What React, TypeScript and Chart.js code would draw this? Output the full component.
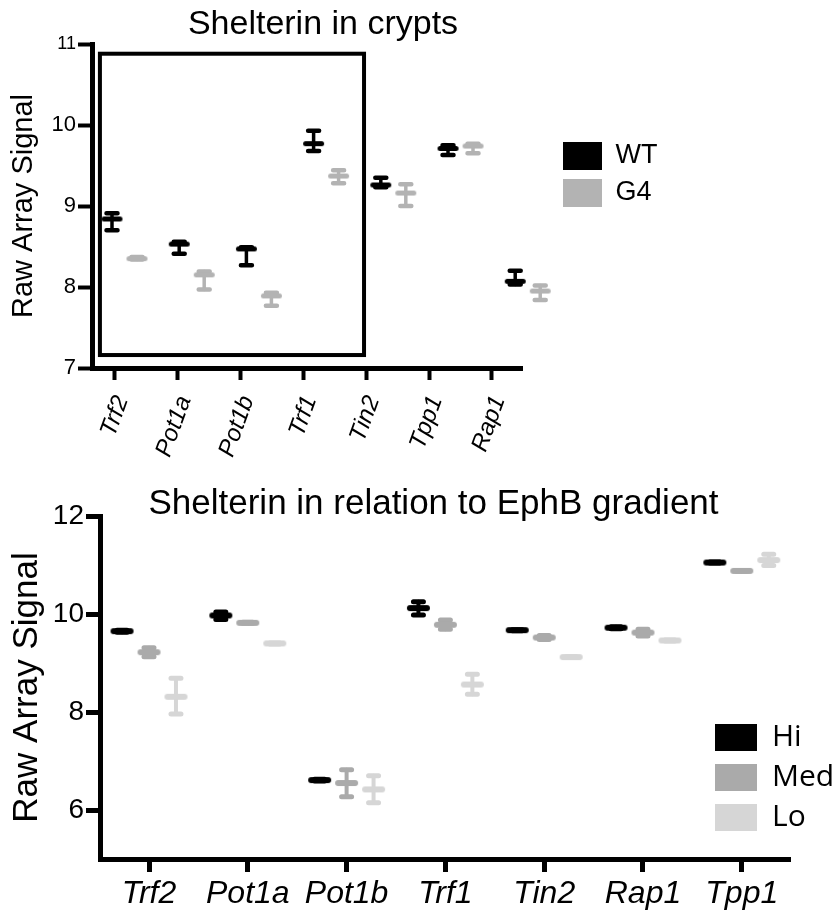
import React, { useEffect, useRef } from 'react';
import { Chart, registerables } from 'chart.js';

Chart.register(...registerables);

const FONT = "'Liberation Sans', Arial, Helvetica, sans-serif";
const LEGEND2_FONT = "'Open Sans', 'Liberation Sans', sans-serif";

// ---------- Top panel: Shelterin in crypts ----------
const topCategories = ['Trf2', 'Pot1a', 'Pot1b', 'Trf1', 'Tin2', 'Tpp1', 'Rap1'];
const wtMean = [8.84, 8.53, 8.47, 9.77, 9.26, 9.71, 8.07];
const wtUpper = [8.91, 8.56, 8.49, 9.93, 9.35, 9.75, 8.2];
const wtLower = [8.7, 8.41, 8.27, 9.68, 9.23, 9.63, 8.03];
const g4Mean = [8.35, 8.15, 7.89, 9.37, 9.16, 9.74, 7.95];
const g4Upper = [8.37, 8.19, 7.93, 9.44, 9.27, 9.77, 8.02];
const g4Lower = [8.34, 7.97, 7.77, 9.28, 9.0, 9.65, 7.84];
const topYMin = 7;
const topYMax = 11;
// highlight frame in axis units (x = category index, y = signal)
const topFrame = { xMin: -0.24, xMax: 3.965, yMin: 7.16, yMax: 10.88 };

// ---------- Bottom panel: EphB gradient ----------
const bottomCategories = ['Trf2', 'Pot1a', 'Pot1b', 'Trf1', 'Tin2', 'Rap1', 'Tpp1'];
const hiMean = [9.65, 9.97, 6.61, 10.12, 9.67, 9.72, 11.05];
const hiUpper = [9.67, 10.04, 6.63, 10.25, 9.68, 9.74, 11.06];
const hiLower = [9.63, 9.89, 6.59, 9.98, 9.66, 9.7, 11.04];
const medMean = [9.22, 9.82, 6.55, 9.78, 9.52, 9.62, 10.88];
const medUpper = [9.31, 9.83, 6.82, 9.88, 9.56, 9.69, 10.89];
const medLower = [9.13, 9.81, 6.27, 9.69, 9.48, 9.55, 10.87];
const loMean = [8.31, 9.4, 6.42, 8.56, 9.12, 9.46, 11.1];
const loUpper = [8.69, 9.41, 6.7, 8.77, 9.13, 9.47, 11.22];
const loLower = [7.96, 9.39, 6.15, 8.36, 9.11, 9.45, 10.99];
const bottomYMin = 5;
const bottomYMax = 12;

const COLORS = { WT: '#000000', G4: '#b3b3b3', Hi: '#000000', Med: '#aaaaaa', Lo: '#d6d6d6' };

function makeMeanMarker(color: string, len: number, thick: number) {
  const c = document.createElement('canvas');
  c.width = Math.round(len + thick + 2);
  c.height = Math.round(thick + 2);
  const g = c.getContext('2d')!;
  g.strokeStyle = color;
  g.lineWidth = thick;
  g.lineCap = 'round';
  g.beginPath();
  g.moveTo(c.width / 2 - len / 2, c.height / 2);
  g.lineTo(c.width / 2 + len / 2, c.height / 2);
  g.stroke();
  return c;
}

const errorBarsPlugin = {
  id: 'errorBars',
  beforeDatasetsDraw(chart: any, _args: any, opts: any) {
    const ctx = chart.ctx;
    ctx.save();
    ctx.lineCap = 'round';
    chart.data.datasets.forEach((ds: any, di: number) => {
      const meta = chart.getDatasetMeta(di);
      const xs = chart.scales[meta.xAxisID];
      const ys = chart.scales[meta.yAxisID];
      ctx.strokeStyle = ds.borderColor;
      ds.data.forEach((p: any, j: number) => {
        const x = xs.getPixelForValue(p.x);
        const yU = ys.getPixelForValue(ds.errUpper[j]);
        const yL = ys.getPixelForValue(ds.errLower[j]);
        ctx.lineWidth = opts.stemWidth;
        ctx.beginPath();
        ctx.moveTo(x, yU);
        ctx.lineTo(x, yL);
        ctx.stroke();
        ctx.lineWidth = opts.capWidth;
        ctx.beginPath();
        ctx.moveTo(x - opts.capHalf, yU);
        ctx.lineTo(x + opts.capHalf, yU);
        ctx.moveTo(x - opts.capHalf, yL);
        ctx.lineTo(x + opts.capHalf, yL);
        ctx.stroke();
      });
    });
    ctx.restore();
  },
};

const frameBoxPlugin = {
  id: 'frameBox',
  beforeDatasetsDraw(chart: any, _args: any, opts: any) {
    if (!opts || !opts.box) return;
    const xs = chart.scales[opts.xAxisID];
    const ys = chart.scales[opts.yAxisID];
    const l = xs.getPixelForValue(opts.box.xMin);
    const r = xs.getPixelForValue(opts.box.xMax);
    const t = ys.getPixelForValue(opts.box.yMax);
    const b = ys.getPixelForValue(opts.box.yMin);
    const ctx = chart.ctx;
    ctx.save();
    ctx.lineWidth = opts.lineWidth;
    ctx.strokeStyle = opts.color;
    ctx.strokeRect(l, t, r - l, b - t);
    ctx.restore();
  },
};

// moves the built-in legend box next to / inside the plot area
const legendPlacer = {
  id: 'legendPlacer',
  afterLayout(chart: any, _args: any, opts: any) {
    const lg = chart.legend;
    if (!lg || !opts) return;
    const ca = chart.chartArea;
    lg.left = ca.right + opts.dx;
    lg.width = opts.width;
    lg.right = lg.left + opts.width;
    lg.top = ca.top + opts.dy;
    lg.height = opts.height;
    lg.bottom = lg.top + opts.height;
  },
};

const solidLegendLabels = (chart: any) =>
  chart.data.datasets.map((ds: any, i: number) => ({
    text: ds.label,
    fillStyle: ds.backgroundColor,
    strokeStyle: ds.backgroundColor,
    lineWidth: 0,
    hidden: false,
    datasetIndex: i,
    fontColor: '#000',
  }));

function seriesDataset(label: string, color: string, means: number[], upper: number[], lower: number[], shift: number, xAxisID: string, len: number, thick: number) {
  return {
    label,
    data: means.map((m, i) => ({ x: i + shift, y: m })),
    errUpper: upper,
    errLower: lower,
    xAxisID,
    yAxisID: 'y',
    borderColor: color,
    backgroundColor: color,
    pointStyle: makeMeanMarker(color, len, thick),
    pointRadius: 25,
    pointBorderWidth: 0,
    clip: false,
  };
}

function topConfig(): any {
  const groupShift = 0.372;
  return {
    type: 'scatter',
    data: {
      datasets: [
        seriesDataset('WT', COLORS.WT, wtMean, wtUpper, wtLower, 0, 'xd', 16, 5),
        seriesDataset('G4', COLORS.G4, g4Mean, g4Upper, g4Lower, groupShift, 'xd', 16, 5),
      ],
    },
    options: {
      responsive: false,
      animation: false,
      events: [],
      layout: { padding: { left: 0, top: 0, bottom: 0, right: 187 } },
      scales: {
        x: {
          type: 'linear',
          position: 'bottom',
          min: -0.366,
          max: 6.48,
          ticks: {
            stepSize: 1,
            includeBounds: false,
            autoSkip: false,
            minRotation: 70,
            maxRotation: 70,
            padding: 12,
            labelOffset: 7,
            color: '#000',
            font: { family: FONT, size: 24, style: 'italic' },
            callback: (v: number) => topCategories[v] ?? '',
          },
          grid: { display: true, drawOnChartArea: false, drawTicks: true, tickLength: 12, tickWidth: 4, tickColor: '#000', color: '#000' },
          border: { display: true, width: 5, color: '#000' },
          afterFit: (s: any) => { s.height = 107; },
        },
        xd: { type: 'linear', position: 'bottom', display: false, min: -0.2976, max: 6.101 },
        y: {
          type: 'linear',
          position: 'left',
          min: topYMin,
          max: topYMax,
          ticks: {
            stepSize: 1,
            padding: 2,
            color: '#000',
            font: (c: any) => ({ family: FONT, size: c.tick && c.tick.value === 11 ? 18 : 22 }),
          },
          grid: { display: true, drawOnChartArea: false, drawTicks: true, tickLength: 14, tickWidth: 4, tickColor: '#000', color: '#000' },
          border: { display: true, width: 5, color: '#000' },
          title: { display: true, text: 'Raw Array Signal', color: '#000', font: { family: FONT, size: 29 }, padding: { top: 7, bottom: 0 } },
          afterFit: (s: any) => { s.width = 92; },
        },
        yR: { type: 'linear', position: 'right', display: false, afterFit: (s: any) => { s.width = 123; } },
      },
      plugins: {
        title: {
          display: true,
          text: 'Shelterin in crypts',
          color: '#000',
          fullSize: true,
          font: { family: FONT, size: 34, weight: 'normal', lineHeight: 1 },
          padding: { top: 8, bottom: 2 },
        },
        legend: {
          display: true,
          position: 'right',
          align: 'start',
          fullSize: false,
          maxWidth: 1,
          labels: {
            boxWidth: 39,
            boxHeight: 28,
            padding: 9,
            color: '#000',
            font: { family: FONT, size: 27 },
            generateLabels: solidLegendLabels,
          },
        },
        tooltip: { enabled: false },
        errorBars: { stemWidth: 3.5, capWidth: 4.5, capHalf: 5.5 },
        frameBox: { box: topFrame, xAxisID: 'x', yAxisID: 'y', lineWidth: 4, color: '#000' },
        legendPlacer: { dx: 32, dy: 89, width: 250, height: 100 },
      },
    },
    plugins: [errorBarsPlugin, frameBoxPlugin, legendPlacer],
  };
}

function bottomConfig(): any {
  const shift = 0.273;
  return {
    type: 'scatter',
    data: {
      datasets: [
        seriesDataset('Hi', COLORS.Hi, hiMean, hiUpper, hiLower, -shift, 'x', 17, 6),
        seriesDataset('Med', COLORS.Med, medMean, medUpper, medLower, 0, 'x', 17, 6),
        seriesDataset('Lo', COLORS.Lo, loMean, loUpper, loLower, shift, 'x', 17, 6),
      ],
    },
    options: {
      responsive: false,
      animation: false,
      events: [],
      layout: { padding: 0 },
      scales: {
        x: {
          type: 'linear',
          position: 'bottom',
          min: -0.496,
          max: 6.488,
          ticks: {
            stepSize: 1,
            includeBounds: false,
            autoSkip: false,
            minRotation: 0,
            maxRotation: 0,
            padding: 3,
            color: '#000',
            font: { family: FONT, size: 32, style: 'italic' },
            callback: (v: number) => bottomCategories[v] ?? '',
          },
          grid: { display: true, drawOnChartArea: false, drawTicks: true, tickLength: 13, tickWidth: 5, tickColor: '#000', color: '#000' },
          border: { display: true, width: 5, color: '#000' },
          afterFit: (s: any) => { s.height = 52; },
        },
        y: {
          type: 'linear',
          position: 'left',
          min: bottomYMin,
          max: bottomYMax,
          ticks: {
            stepSize: 2,
            includeBounds: false,
            padding: 2,
            color: '#000',
            font: { family: FONT, size: 28 },
          },
          grid: { display: true, drawOnChartArea: false, drawTicks: true, tickLength: 14, tickWidth: 5, tickColor: '#000', color: '#000' },
          border: { display: true, width: 5, color: '#000' },
          title: { display: true, text: 'Raw Array Signal', color: '#000', font: { family: FONT, size: 35 }, padding: { top: 6, bottom: 0 } },
          afterFit: (s: any) => { s.width = 100; },
        },
        yR: { type: 'linear', position: 'right', display: false, afterFit: (s: any) => { s.width = 76; } },
      },
      plugins: {
        title: {
          display: true,
          text: 'Shelterin in relation to EphB gradient',
          color: '#000',
          fullSize: true,
          font: { family: FONT, size: 35, weight: 'normal', lineHeight: 0.8 },
          padding: { top: 30, bottom: -2 },
        },
        legend: {
          display: true,
          position: 'right',
          align: 'start',
          fullSize: false,
          maxWidth: 1,
          labels: {
            boxWidth: 42,
            boxHeight: 27,
            padding: 10,
            color: '#000',
            font: { family: LEGEND2_FONT, size: 30 },
            generateLabels: solidLegendLabels,
          },
        },
        tooltip: { enabled: false },
        errorBars: { stemWidth: 4, capWidth: 5, capHalf: 5 },
        legendPlacer: { dx: -85, dy: 196.5, width: 200, height: 150 },
      },
    },
    plugins: [errorBarsPlugin, legendPlacer],
  };
}

export default function App() {
  const topRef = useRef<HTMLCanvasElement>(null);
  const bottomRef = useRef<HTMLCanvasElement>(null);

  useEffect(() => {
    const c1 = new Chart(topRef.current as HTMLCanvasElement, topConfig());
    const c2 = new Chart(bottomRef.current as HTMLCanvasElement, bottomConfig());
    return () => {
      c1.destroy();
      c2.destroy();
    };
  }, []);

  return (
    <div style={{ position: 'absolute', left: 0, top: 0, width: 833, height: 911, overflow: 'hidden', background: '#fff' }}>
      <canvas ref={topRef} width={833} height={475} style={{ position: 'absolute', left: 0, top: 0, width: 833, height: 475 }} />
      <canvas ref={bottomRef} width={867} height={451} style={{ position: 'absolute', left: 0, top: 460, width: 867, height: 451 }} />
    </div>
  );
}
